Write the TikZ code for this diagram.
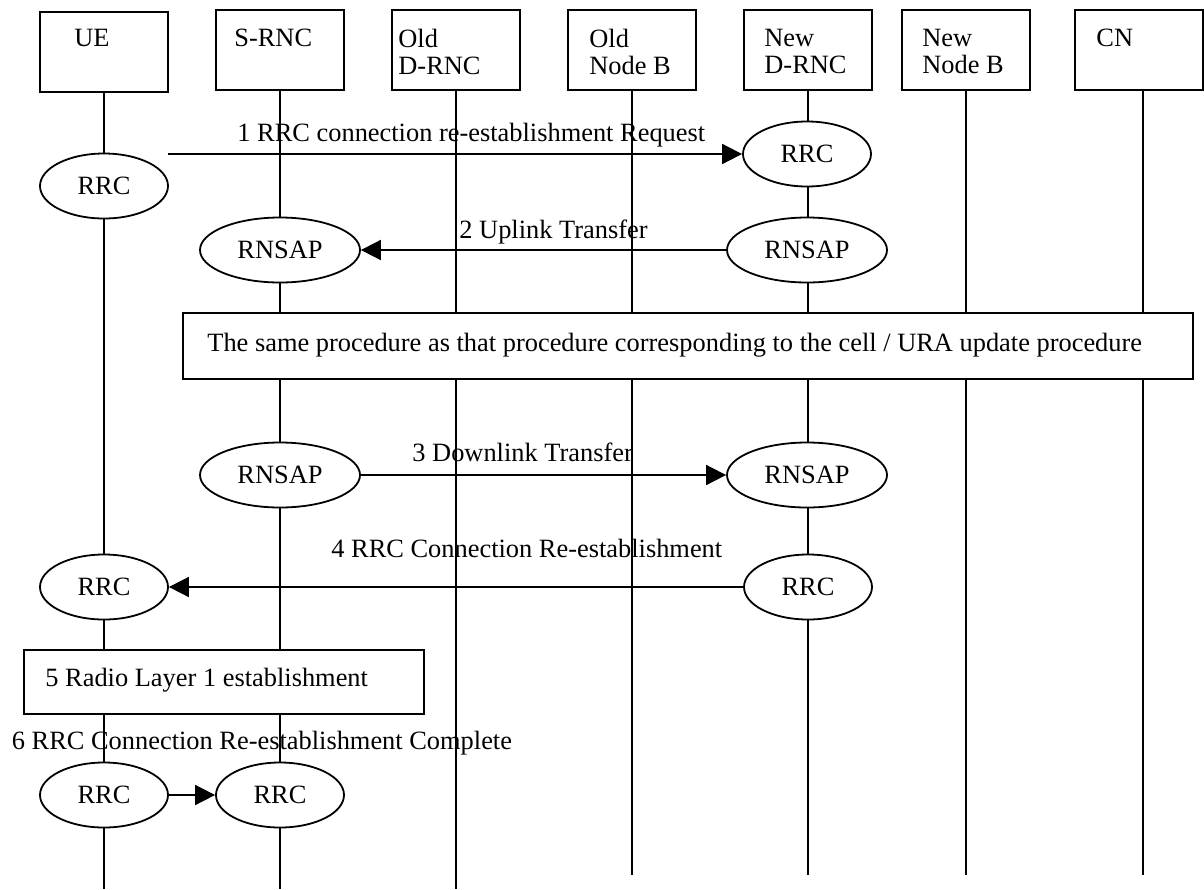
\documentclass[tikz,border=0pt]{standalone}
\usepackage{fontspec}
\setmainfont{Liberation Serif}
\usetikzlibrary{arrows.meta,shapes.geometric}

\begin{document}
\begin{tikzpicture}[x=0.5pt,y=-0.5pt,
  every node/.style={font=\fontsize{13.2}{13.5}\selectfont},
  hdr/.style={draw,line width=0.9pt,minimum width=64pt,minimum height=40pt,inner sep=0pt},
  hdrtext/.style={anchor=north west,inner sep=0pt,align=left},
  life/.style={line width=0.9pt},
  ent/.style={draw,ellipse,line width=0.9pt,fill=white,minimum height=32.5pt,inner sep=0pt},
  rrc/.style={ent,minimum width=64pt},
  rnsap/.style={ent,minimum width=80pt},
  msg/.style={line width=0.9pt,-{Triangle[length=10pt,width=10pt]}},
  lbl/.style={anchor=base west,inner sep=0pt},
  stepbox/.style={draw,line width=0.9pt,fill=white,inner sep=0pt}
]
\useasboundingbox (0,0) rectangle (1204,889);

% entity headers
\node[hdr] (ue)    at (104,52)  {};
\node[hdr] (srnc)  at (280,50)  {};
\node[hdr] (odrnc) at (456,50)  {};
\node[hdr] (onb)   at (632,50)  {};
\node[hdr] (ndrnc) at (808,50)  {};
\node[hdr] (nnb)   at (966,50)  {};
\node[hdr] (cn)    at (1139,50) {};

\node[hdrtext] (ue-t)    at (74,29)   {UE};
\node[hdrtext] (srnc-t)  at (234,29)  {S-RNC};
\node[hdrtext] (odrnc-t) at (398,29)  {Old\\D-RNC};
\node[hdrtext] (onb-t)   at (589,29)  {Old\\Node B};
\node[hdrtext] (ndrnc-t) at (764,29)  {New\\D-RNC};
\node[hdrtext] (nnb-t)   at (922,29)  {New\\Node B};
\node[hdrtext] (cn-t)    at (1096,29) {CN};

% lifelines
\coordinate (ue-end)    at (104,889);
\coordinate (srnc-end)  at (280,889);
\coordinate (odrnc-end) at (456,889);
\coordinate (onb-end)   at (632,875);
\coordinate (ndrnc-end) at (808,875);
\coordinate (nnb-end)   at (966,875);
\coordinate (cn-end)    at (1143,875);

\draw[life] (ue.south) -- (ue-end);
\draw[life] (srnc.south) -- (srnc-end);
\draw[life] (odrnc.south) -- (odrnc-end);
\draw[life] (onb.south) -- (onb-end);
\draw[life] (ndrnc.south) -- (ndrnc-end);
\draw[life] (nnb.south) -- (nnb-end);
\draw[life] (cn-end |- cn.south) -- (cn-end);

% protocol entities and procedure boxes
\node[rrc]   (rrc-ue1)   at (104,186) {RRC};
\node[rrc]   (rrc-nd1)   at (807,154) {RRC};
\node[rnsap] (rnsap-s2)  at (280,250) {RNSAP};
\node[rnsap] (rnsap-nd2) at (807,250) {RNSAP};
\node[stepbox,minimum width=505pt,minimum height=33pt] (proc) at (688,346) {};
\node[rnsap] (rnsap-s3)  at (280,475) {RNSAP};
\node[rnsap] (rnsap-nd3) at (807,475) {RNSAP};
\node[rrc]   (rrc-ue4)   at (104,587) {RRC};
\node[rrc]   (rrc-nd4)   at (808,587) {RRC};
\node[stepbox,minimum width=200pt,minimum height=32pt] (l1) at (224,682) {};
\node[rrc]   (rrc-ue6)   at (104,795) {RRC};
\node[rrc]   (rrc-s6)    at (280,795) {RRC};

% messages
\coordinate (m1-start) at (168,154);
\draw[msg] (m1-start) -- (rrc-nd1.west);
\draw[msg] (rnsap-nd2.west) -- (rnsap-s2.east);
\draw[msg] (rnsap-s3.east) -- (rnsap-nd3.west);
\draw[msg] (rrc-nd4.west) -- (rrc-ue4.east);
\draw[msg] (rrc-ue6.east) -- (rrc-s6.west);

% labels
\node[lbl] (m1-t)   at (237,141) {1 RRC connection re-establishment Request};
\node[lbl] (m2-t)   at (459,238) {2 Uplink Transfer};
\node[lbl] (proc-t) at (207,351) {The same procedure as that procedure corresponding to the cell / URA update procedure};
\node[lbl] (m3-t)   at (412,461) {3 Downlink Transfer};
\node[lbl] (m4-t)   at (331,557) {4 RRC Connection Re-establishment};
\node[lbl] (l1-t)   at (45,686)  {5 Radio Layer 1 establishment};
\node[lbl] (m6-t)   at (11.5,749) {6 RRC Connection Re-establishment Complete};
\end{tikzpicture}
\end{document}
